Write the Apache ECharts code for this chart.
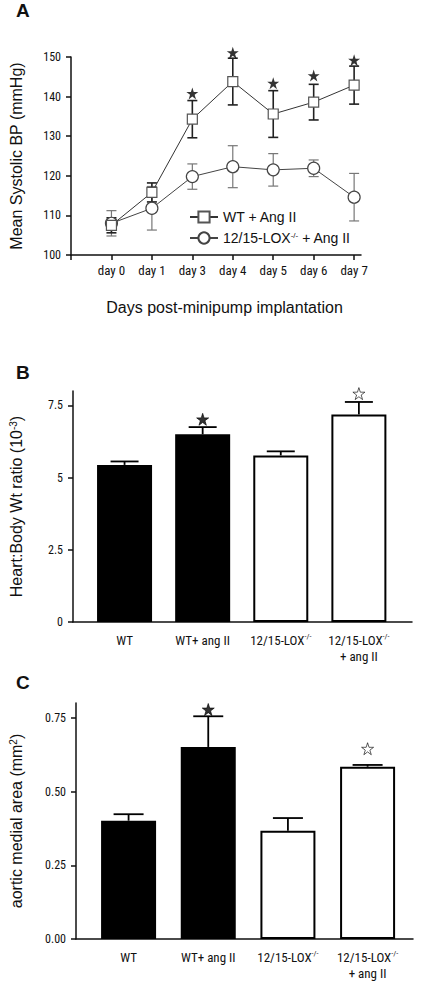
<!DOCTYPE html>
<html>
<head>
<meta charset="utf-8">
<script src="https://cdn.jsdelivr.net/npm/echarts@6/dist/echarts.min.js"></script>
<style>
  html, body { margin: 0; padding: 0; background: #fff; }
  #chart { width: 422px; height: 982px; }
</style>
</head>
<body>
<div id="chart"></div>
<script>
// --- data ---
var days = ['day 0', 'day 1', 'day 3', 'day 4', 'day 5', 'day 6', 'day 7'];
var wtBP = [107.5, 115.8, 134.3, 143.8, 135.6, 138.6, 142.9];
var wtErr = [1.9, 2.4, 4.7, 5.9, 5.9, 4.5, 4.8];
var loxBP = [108, 111.8, 119.8, 122.3, 121.5, 121.9, 114.6];
var loxErr = [3.2, 5.5, 3.2, 5.3, 4.1, 2.1, 6.0];
var starsA = [null, null, 140.8, 151.1, 143.4, 145.3, 149.2];

var groups = ['WT', 'WT+ ang II', '12/15-LOX-/-', '12/15-LOX-/-\n+ ang II'];
var heartRatio = [5.44, 6.50, 5.77, 7.19];
var heartErr = [0.12, 0.25, 0.14, 0.43];
var heartStars = [null, 7.02, null, 7.91];
var medialArea = [0.401, 0.651, 0.367, 0.584];
var medialErr = [0.022, 0.104, 0.043, 0.006];
var medialStars = [null, 0.778, null, 0.645];

var yTicksA = [100, 110, 120, 130, 140, 150];
var yTicksB = [0, 2.5, 5, 7.5];
var yTicksC = [0, 0.25, 0.5, 0.75];

(function() {
  var ink = '#111';
  var sans = "'Liberation Sans', Arial, sans-serif";
  var narrow = "'Roboto Condensed', 'DejaVu Sans Condensed', 'Liberation Sans', sans-serif";
  var starPath = 'path://M50,0 L61.8,35.1 L100,35.1 L69.1,56.8 L80.9,91.9 L50,70.2 L19.1,91.9 L30.9,56.8 L0,35.1 L38.2,35.1 Z';

  function supText(s, base) {
    // "-/-" is set as a superscript
    return s.split('\n').map(function(line) {
      return '{' + base + '|' + line.replace('-/-', '}{s|-/-}{' + base + '|') + '}';
    }).join('\n');
  }
  function pairs(vals) {
    var out = [];
    vals.forEach(function(v, i) { if (v != null) out.push([i, v]); });
    return out;
  }
  function errData(vals, errs, both) {
    return vals.map(function(v, i) { return [i, both ? v - errs[i] : v, v + errs[i]]; });
  }
  function errRender(both, capHalf, color, width) {
    return function(params, api) {
      var x = api.value(0);
      var lo = api.coord([x, api.value(1)]);
      var hi = api.coord([x, api.value(2)]);
      var st = { stroke: color, lineWidth: width };
      var kids = [
        { type: 'line', shape: { x1: lo[0], y1: lo[1], x2: hi[0], y2: hi[1] }, style: st },
        { type: 'line', shape: { x1: hi[0] - capHalf, y1: hi[1], x2: hi[0] + capHalf, y2: hi[1] }, style: st }
      ];
      if (both) {
        kids.push({ type: 'line', shape: { x1: lo[0] - capHalf, y1: lo[1], x2: lo[0] + capHalf, y2: lo[1] }, style: st });
      }
      return { type: 'group', children: kids };
    };
  }

  var axisLine = { onZero: false, lineStyle: { color: ink, width: 1.5 } };
  var axisTick = { length: 5, lineStyle: { color: ink, width: 1.5 } };
  var tickFont = { color: ink, fontFamily: narrow, fontSize: 12, margin: 10 };
  var richLabel = {
    a: { fontFamily: narrow, fontSize: 13, color: ink, lineHeight: 16 },
    s: { fontFamily: narrow, fontSize: 8, color: ink, verticalAlign: 'top', lineHeight: 16 }
  };
  var idx = groups.map(function(g, i) { return i; });
  var dayIdx = days.map(function(d, i) { return i; });
  var letter = { fontFamily: sans, fontSize: 19, fontWeight: 'bold', color: ink };
  var nameRich = {
    rich: {
      a: { color: ink, fontFamily: sans, fontSize: 16 },
      s: { color: ink, fontFamily: sans, fontSize: 10, verticalAlign: 'top' }
    }
  };

  var chart = echarts.init(document.getElementById('chart'), null, { renderer: 'svg' });
  chart.setOption({
    animation: false,
    backgroundColor: '#fff',
    title: [
      { text: 'A', left: 16, top: 1, padding: 0, textStyle: letter },
      { text: 'B', left: 16, top: 363, padding: 0, textStyle: letter },
      { text: 'C', left: 16, top: 673, padding: 0, textStyle: letter }
    ],
    legend: {
      left: 184, top: 205, orient: 'vertical',
      itemWidth: 28, itemHeight: 14, itemGap: 7,
      data: ['WT + Ang II', '12/15-LOX-/- + Ang II'],
      formatter: function(name) { return supText(name, 'l'); },
      textStyle: {
        color: ink, fontFamily: sans, fontSize: 14,
        rich: {
          l: { fontFamily: sans, fontSize: 14, color: ink },
          s: { fontFamily: sans, fontSize: 8, color: ink, verticalAlign: 'top' }
        }
      }
    },
    grid: [
      { left: 66, top: 57, width: 295, height: 198 },
      { left: 66, top: 391, width: 346, height: 231 },
      { left: 70, top: 703, width: 343, height: 236 }
    ],
    xAxis: [
      {
        gridIndex: 0, type: 'value', min: -1, max: 6.17,
        splitLine: { show: false }, axisLine: axisLine,
        axisTick: { length: 5, lineStyle: { color: ink, width: 1.5 }, customValues: [-1].concat(dayIdx) },
        axisLabel: {
          color: ink, fontFamily: narrow, fontSize: 13, margin: 9,
          customValues: dayIdx,
          formatter: function(v) { return days[v]; }
        },
        name: 'Days post-minipump implantation', nameLocation: 'middle', nameGap: 44,
        nameTextStyle: { color: ink, fontFamily: sans, fontSize: 16, padding: [0, 0, 0, 17] }
      },
      {
        gridIndex: 1, type: 'value', min: -0.66, max: 3.68,
        splitLine: { show: false }, axisLine: axisLine, axisTick: { show: false },
        axisLabel: {
          margin: 10, customValues: idx,
          formatter: function(v) { return supText(groups[v], 'a'); },
          rich: richLabel
        }
      },
      {
        gridIndex: 2, type: 'value', min: -0.66, max: 3.57,
        splitLine: { show: false }, axisLine: axisLine, axisTick: { show: false },
        axisLabel: {
          margin: 10, customValues: idx,
          formatter: function(v) { return supText(groups[v], 'a'); },
          rich: richLabel
        }
      }
    ],
    yAxis: [
      {
        gridIndex: 0, type: 'value', min: 100, max: 150,
        splitLine: { show: false }, axisLine: axisLine,
        axisTick: Object.assign({ customValues: yTicksA }, axisTick),
        axisLabel: Object.assign({ customValues: yTicksA }, tickFont),
        name: 'Mean Systolic BP (mmHg)', nameLocation: 'middle', nameGap: 47,
        nameTextStyle: { color: ink, fontFamily: sans, fontSize: 16 }
      },
      {
        gridIndex: 1, type: 'value', min: 0, max: 8,
        splitLine: { show: false }, axisLine: axisLine,
        axisTick: Object.assign({ customValues: yTicksB }, axisTick),
        axisLabel: Object.assign({ customValues: yTicksB }, tickFont),
        name: '{a|Heart:Body Wt ratio (10}{s|-3}{a|)}', nameLocation: 'middle', nameGap: 49,
        nameTextStyle: nameRich
      },
      {
        gridIndex: 2, type: 'value', min: 0, max: 0.8,
        splitLine: { show: false }, axisLine: axisLine,
        axisTick: Object.assign({ customValues: yTicksC }, axisTick),
        axisLabel: Object.assign({ customValues: yTicksC, formatter: function(v) { return v.toFixed(2); } }, tickFont),
        name: '{a|aortic medial area (mm}{s|2}{a|)}', nameLocation: 'middle', nameGap: 52,
        nameTextStyle: nameRich
      }
    ],
    series: [
      // --- panel A ---
      {
        type: 'custom', xAxisIndex: 0, yAxisIndex: 0, z: 1,
        renderItem: errRender(true, 5, '#777', 1.2),
        encode: { x: 0, y: [1, 2] },
        data: errData(loxBP, loxErr, true)
      },
      {
        type: 'custom', xAxisIndex: 0, yAxisIndex: 0, z: 1,
        renderItem: errRender(true, 5, '#222', 1.6),
        encode: { x: 0, y: [1, 2] },
        data: errData(wtBP, wtErr, true)
      },
      {
        name: '12/15-LOX-/- + Ang II', type: 'line', xAxisIndex: 0, yAxisIndex: 0,
        data: pairs(loxBP), symbol: 'circle', symbolSize: 12,
        lineStyle: { color: '#444', width: 1 },
        itemStyle: { color: '#fff', borderColor: '#444', borderWidth: 1.2 }
      },
      {
        name: 'WT + Ang II', type: 'line', xAxisIndex: 0, yAxisIndex: 0,
        data: pairs(wtBP), symbol: 'rect', symbolSize: 10,
        lineStyle: { color: '#333', width: 1 },
        itemStyle: { color: '#fff', borderColor: '#555', borderWidth: 1.2 }
      },
      {
        type: 'scatter', xAxisIndex: 0, yAxisIndex: 0, clip: false,
        data: pairs(starsA), symbol: starPath, symbolSize: 12,
        itemStyle: { color: '#000' }
      },
      // --- panel B ---
      {
        type: 'bar', xAxisIndex: 1, yAxisIndex: 1, barWidth: 55,
        data: pairs(heartRatio),
        itemStyle: {
          color: function(p) { return p.dataIndex < 2 ? '#000' : '#fff'; },
          borderColor: '#000', borderWidth: 2
        }
      },
      {
        type: 'custom', xAxisIndex: 1, yAxisIndex: 1, z: 3,
        renderItem: errRender(false, 14, '#000', 1.8),
        encode: { x: 0, y: [1, 2] },
        data: errData(heartRatio, heartErr, false)
      },
      {
        type: 'scatter', xAxisIndex: 1, yAxisIndex: 1, clip: false,
        data: pairs(heartStars), symbol: starPath, symbolSize: 12,
        itemStyle: {
          color: function(p) { return p.data[0] < 2 ? '#000' : '#fff'; },
          borderColor: '#000', borderWidth: 0.8
        }
      },
      // --- panel C ---
      {
        type: 'bar', xAxisIndex: 2, yAxisIndex: 2, barWidth: 55,
        data: pairs(medialArea),
        itemStyle: {
          color: function(p) { return p.dataIndex < 2 ? '#000' : '#fff'; },
          borderColor: '#000', borderWidth: 2
        }
      },
      {
        type: 'custom', xAxisIndex: 2, yAxisIndex: 2, z: 3,
        renderItem: errRender(false, 15, '#000', 1.8),
        encode: { x: 0, y: [1, 2] },
        data: errData(medialArea, medialErr, false)
      },
      {
        type: 'scatter', xAxisIndex: 2, yAxisIndex: 2, clip: false,
        data: pairs(medialStars), symbol: starPath, symbolSize: 12,
        itemStyle: {
          color: function(p) { return p.data[0] < 2 ? '#000' : '#fff'; },
          borderColor: '#000', borderWidth: 0.8
        }
      }
    ]
  });
  window.addEventListener('resize', function() { chart.resize(); });
})();
</script>
</body>
</html>
